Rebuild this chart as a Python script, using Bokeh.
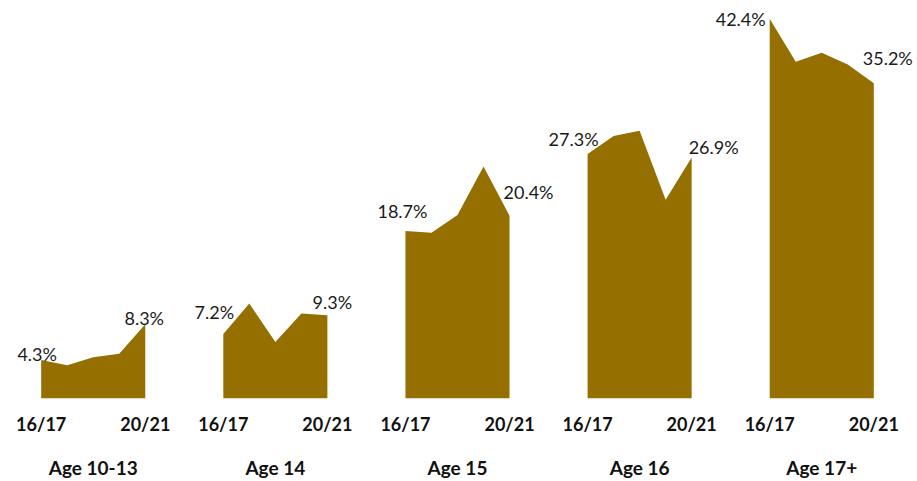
from bokeh.plotting import figure
from bokeh.models import ColumnDataSource, FixedTicker, LinearAxis, Range1d
from bokeh.embed import file_html
from bokeh.resources import INLINE
from bokeh.core.properties import value

groups = ["Age 10-13", "Age 14", "Age 15", "Age 16", "Age 17+"]
years = ["16/17", "17/18", "18/19", "19/20", "20/21"]
age_10_13 = [4.3, 3.7, 4.6, 5.0, 8.3]
age_14 = [7.2, 10.6, 6.3, 9.5, 9.3]
age_15 = [18.7, 18.5, 20.5, 25.9, 20.4]
age_16 = [27.3, 29.3, 29.9, 22.2, 26.9]
age_17_plus = [42.4, 37.6, 38.6, 37.3, 35.2]
series = [age_10_13, age_14, age_15, age_16, age_17_plus]

# label placement offsets (px) for first / last value labels of each panel
first_offsets = [(-4, -6), (-9, -22), (-3, -20), (-14, -15), (-29, 0)]
last_offsets = [(-1, -6), (5, -13), (19, -24), (22, -11), (14, -25)]

FILL = "#957000"
FONT = "Lato"
STRIDE = 7

p = figure(width=917, height=481, output_backend="svg", toolbar_location=None,
           x_range=Range1d(-1.564, 33.68), y_range=Range1d(0, 44.44),
           y_axis_location=None, min_border=0, outline_line_color=None,
           background_fill_color="white", border_fill_color="white")
p.xgrid.visible = False
p.ygrid.visible = False

lx, ly, lt, lxo, lyo = [], [], [], [], []
ticks, overrides = [], {}
centers, group_over = [], {}
for i, vals in enumerate(series):
    xs = [STRIDE * i + j for j in range(len(years))]
    p.varea(x=xs, y1=[0] * len(xs), y2=vals, fill_color=FILL)
    for k, off in ((0, first_offsets[i]), (len(vals) - 1, last_offsets[i])):
        lx.append(xs[k]); ly.append(vals[k]); lt.append(f"{vals[k]:.1f}%")
        lxo.append(off[0]); lyo.append(off[1])
    ticks += [xs[0], xs[-1]]
    overrides[xs[0]] = years[0]
    overrides[xs[-1]] = years[-1]
    c = (xs[0] + xs[-1]) / 2
    centers.append(c)
    group_over[c] = groups[i]

src = ColumnDataSource(dict(x=lx, y=ly, t=lt, xo=lxo, yo=lyo))
p.text(x="x", y="y", text="t", x_offset="xo", y_offset="yo", source=src,
       text_align="center", text_baseline="middle", text_font=value(FONT),
       text_font_size="18px", text_color="#1a1a1a")

ax = p.xaxis[0]
ax.ticker = FixedTicker(ticks=ticks)
ax.major_label_overrides = overrides
ax.axis_line_color = None
ax.major_tick_line_color = None
ax.minor_tick_line_color = None
ax.major_label_text_font = FONT
ax.major_label_text_font_style = "bold"
ax.major_label_text_font_size = "18px"
ax.major_label_text_color = "#111111"
ax.major_label_standoff = 8

ax2 = LinearAxis(ticker=FixedTicker(ticks=centers), major_label_overrides=group_over)
ax2.axis_line_color = None
ax2.major_tick_line_color = None
ax2.minor_tick_line_color = None
ax2.major_label_text_font = FONT
ax2.major_label_text_font_style = "bold"
ax2.major_label_text_font_size = "19px"
ax2.major_label_text_color = "#111111"
ax2.major_label_standoff = 12
p.add_layout(ax2, "below")

open("out.html", "w").write(file_html(p, INLINE))
